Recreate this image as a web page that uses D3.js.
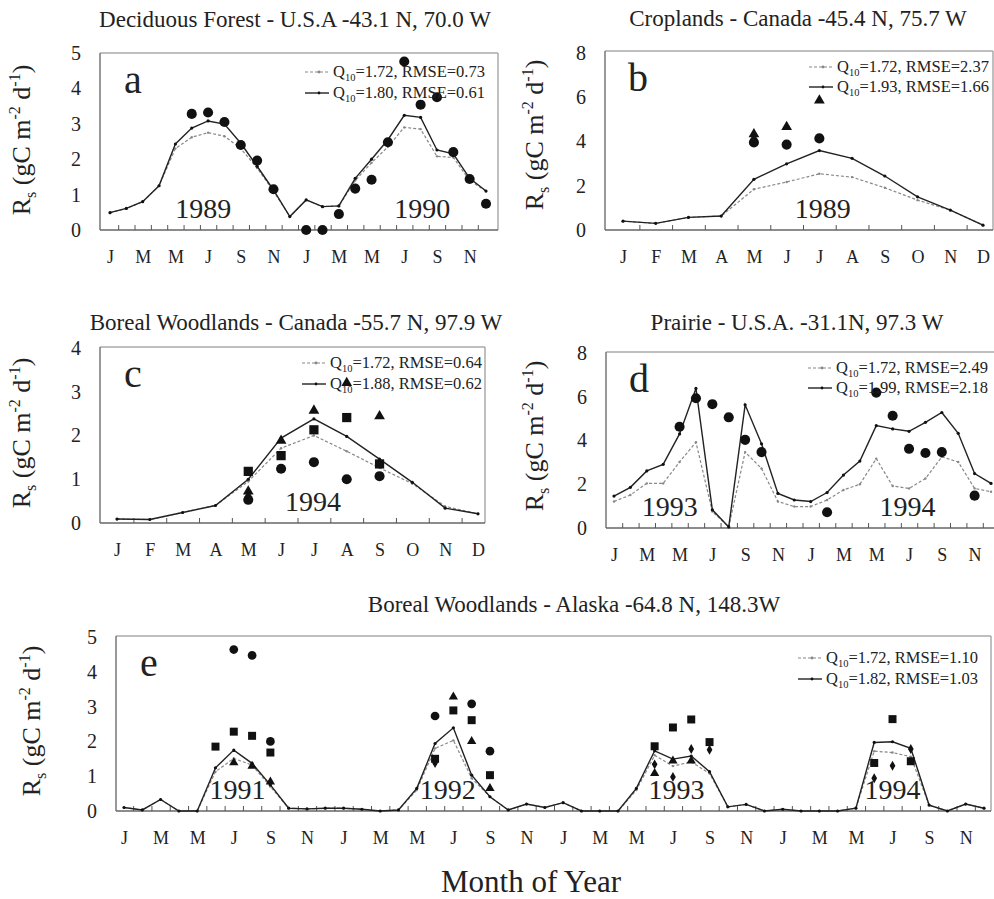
<!DOCTYPE html>
<html>
<head>
<meta charset="utf-8">
<title>Soil respiration - five sites</title>
<script src="https://cdn.jsdelivr.net/npm/d3@7/dist/d3.min.js"></script>
<style>
  body { margin: 0; background: #fff; }
  svg, svg text { font-family: "Liberation Serif", "DejaVu Serif", "Times New Roman", serif !important; }
  svg text { fill: #222; }
</style>
</head>
<body>
<svg id="chart" width="994" height="899" font-family="Liberation Serif"></svg>
<script>
// ---- month labels ----
const months12 = ["J","F","M","A","M","J","J","A","S","O","N","D"];
const monthsOdd = ["J","M","M","J","S","N"];

// ---- a: Deciduous forest (Jan 1989 - Dec 1990) ----
const aSolid  = [0.49,0.61,0.80,1.25,2.43,2.88,3.08,2.99,2.45,1.80,1.13,0.38,
                 0.85,0.66,0.68,1.46,2.00,2.55,3.24,3.18,2.26,2.15,1.46,1.10];
const aDotted = [0.49,0.61,0.80,1.25,2.30,2.62,2.75,2.65,2.30,1.75,1.10,0.38,
                 0.85,0.66,0.68,1.40,1.90,2.35,2.90,2.85,2.08,2.05,1.40,1.10];
const aCircles = [[5,3.28],[6,3.32],[7,3.05],[8,2.40],[9,1.96],[10,1.15],[12,0.0],[13,0.0],
                  [14,0.45],[15,1.17],[16,1.42],[17,2.48],[18,4.76],[19,3.54],[20,3.75],
                  [21,2.20],[22,1.44],[23,0.74]];
const aLegend = [["1.72","0.73"],["1.80","0.61"]];

// ---- b: Croplands (1989) ----
const bSolid  = [0.40,0.30,0.57,0.63,2.29,2.99,3.59,3.24,2.44,1.50,0.90,0.22];
const bDotted = [0.40,0.30,0.57,0.63,1.84,2.17,2.54,2.39,1.91,1.35,0.90,0.22];
const bCircles = [[4,3.96],[5,3.86],[6,4.14]];
const bTriangles = [[4,4.33],[5,4.66],[6,5.86]];
const bDiamonds = [[4,4.12]];
const bLegend = [["1.72","2.37"],["1.93","1.66"]];

// ---- c: Boreal woodlands Canada (1994) ----
const cSolid  = [0.09,0.08,0.24,0.40,1.00,1.94,2.38,1.98,1.46,0.93,0.34,0.21];
const cDotted = [0.09,0.08,0.24,0.40,0.95,1.71,2.00,1.64,1.26,0.90,0.38,0.21];
const cCircles = [[4,0.53],[5,1.24],[6,1.39],[7,1.00],[8,1.07]];
const cSquares = [[4,1.18],[5,1.54],[6,2.13],[7,2.41],[8,1.35]];
const cTriangles = [[4,0.72],[5,1.88],[6,2.57],[7,3.20],[8,2.44]];
const cDiamonds = [[4,0.62]];
const cLegend = [["1.72","0.64"],["1.88","0.62"]];

// ---- d: Prairie (1993 - 1994) ----
const dSolid  = [1.46,1.86,2.61,2.91,4.30,6.38,0.83,0.05,5.63,3.85,1.58,1.28,
                 1.21,1.62,2.42,3.06,4.68,4.53,4.42,4.83,5.28,4.33,2.49,2.04];
const dDotted = [1.21,1.51,2.04,2.04,3.02,3.92,0.75,0.05,3.47,2.72,1.21,0.98,
                 0.98,1.28,1.74,2.00,3.17,1.92,1.81,2.26,3.25,3.02,1.81,1.66];
const dCircles = [[4,4.63],[5,5.93],[6,5.66],[7,5.06],[8,4.03],[9,3.47],[13,0.72],
                  [16,6.19],[17,5.13],[18,3.62],[19,3.43],[20,3.47],[22,1.48]];
const dLegend = [["1.72","2.49"],["1.99","2.18"]];

// ---- e: Boreal woodlands Alaska (1991 - 1994) ----
const eSolid  = [0.10,0.03,0.33,0.00,0.00,1.24,1.75,1.37,0.75,0.08,0.06,0.08,
                 0.08,0.05,0.00,0.03,0.65,1.94,2.39,1.03,0.41,0.03,0.20,0.10,
                 0.24,0.00,0.00,0.00,0.65,1.73,1.49,1.58,1.13,0.12,0.19,0.00,
                 0.05,0.00,0.00,0.00,0.08,1.97,1.99,1.80,0.17,0.00,0.20,0.08];
const eDotted = [0.10,0.03,0.33,0.00,0.00,1.13,1.51,1.32,0.70,0.08,0.06,0.08,
                 0.08,0.05,0.00,0.03,0.60,1.80,2.03,0.94,0.41,0.03,0.20,0.10,
                 0.24,0.00,0.00,0.00,0.60,1.60,1.29,1.41,1.08,0.12,0.19,0.00,
                 0.05,0.00,0.00,0.00,0.08,1.72,1.68,1.56,0.17,0.00,0.20,0.08];
const eCircles = [[6,4.64],[7,4.47],[8,2.00],[17,2.73],[19,3.08],[20,1.72]];
const eSquares = [[5,1.85],[6,2.28],[7,2.16],[8,1.68],[17,1.50],[18,2.89],[19,2.61],[20,1.03],
                  [29,1.86],[30,2.40],[31,2.63],[32,1.98],[41,1.38],[42,2.64],[43,1.43]];
const eTriangles = [[6,1.39],[7,1.29],[8,0.84],[18,3.28],[19,2.00],[20,0.65],
                    [29,1.08],[30,1.44],[31,1.44]];
const eDiamonds = [[17,1.38],[29,1.34],[30,0.98],[31,1.78],[32,1.76],[41,0.94],[42,1.30],[43,1.78]];
const eLegend = [["1.72","1.10"],["1.82","1.03"]];

const svg = d3.select("#chart");

function drawPanel(p) {
  const g = svg.append("g");
  const n = p.solid.length;
  const x = d3.scaleLinear().domain([0, n - 1]).range([p.x0, p.x1]);
  const y = d3.scaleLinear().domain([0, p.yMax]).range([p.bottom, p.yTop]);

  // frame: top/right light, left/bottom darker
  g.append("line").attr("x1", p.left).attr("x2", p.right).attr("y1", p.top).attr("y2", p.top)
    .attr("stroke", "#aaa").attr("stroke-width", 1.5);
  g.append("line").attr("x1", p.right).attr("x2", p.right).attr("y1", p.top).attr("y2", p.bottom)
    .attr("stroke", "#aaa").attr("stroke-width", 1.5);
  g.append("line").attr("x1", p.left).attr("x2", p.left).attr("y1", p.top).attr("y2", p.bottom)
    .attr("stroke", "#777").attr("stroke-width", 1.5);
  g.append("line").attr("x1", p.left).attr("x2", p.right).attr("y1", p.bottom).attr("y2", p.bottom)
    .attr("stroke", "#666").attr("stroke-width", 1.5);

  // y axis labels
  const ya = g.append("g").attr("transform", `translate(${p.left},0)`)
    .call(d3.axisLeft(y).tickValues(d3.range(0, p.yMax + 1, p.yStep)).tickSize(0).tickPadding(19).tickFormat(d3.format("d")));
  ya.select(".domain").remove();
  ya.attr("font-family", null);
  ya.selectAll("text").attr("font-size", 20);

  // month boundary ticks (inside)
  const ta = g.append("g").attr("transform", `translate(0,${p.bottom})`)
    .call(d3.axisBottom(x).tickValues(d3.range(0.5, n - 1, 1)).tickSize(-5).tickFormat(""));
  ta.select(".domain").remove();
  ta.selectAll("line").attr("stroke", "#555");

  // month labels
  const step = p.labels.length === n ? 1 : 2;
  const labIdx = d3.range(0, n, step);
  const la = g.append("g").attr("transform", `translate(0,${p.bottom})`)
    .call(d3.axisBottom(x).tickValues(labIdx).tickSize(0).tickPadding(20)
      .tickFormat((d, i) => p.labels[i % p.labels.length]));
  la.select(".domain").remove();
  la.attr("font-family", null);
  la.selectAll("text").attr("font-size", 18);

  // model lines
  const line = d3.line().x((d, i) => x(i)).y(d => y(d));
  g.append("path").datum(p.dotted).attr("d", line).attr("fill", "none")
    .attr("stroke", "#888").attr("stroke-width", 1.2).attr("stroke-dasharray", "3,2");
  g.selectAll(".dd").data(p.dotted).join("circle")
    .attr("cx", (d, i) => x(i)).attr("cy", d => y(d)).attr("r", 1.2).attr("fill", "#888");
  g.append("path").datum(p.solid).attr("d", line).attr("fill", "none")
    .attr("stroke", "#222").attr("stroke-width", 1.4);
  g.selectAll(".sd").data(p.solid).join("circle")
    .attr("cx", (d, i) => x(i)).attr("cy", d => y(d)).attr("r", 1.6).attr("fill", "#111");

  // observations
  const sc = p.markScale || 1;
  const sets = [
    [p.circles, d3.symbolCircle, 80],
    [p.squares, d3.symbolSquare, 85],
    [p.triangles, d3.symbolTriangle, 50],
    [p.diamonds, d3.symbolDiamond, 38]
  ];
  sets.forEach(([data, type, size]) => {
    if (!data) return;
    g.selectAll(null).data(data).join("path")
      .attr("transform", d => `translate(${x(d[0])},${y(d[1])})`)
      .attr("d", d3.symbol().type(type).size(size * sc))
      .attr("fill", "#111");
  });

  // year labels
  p.years.forEach(([txt, idx]) => {
    g.append("text").attr("x", x(idx)).attr("y", p.bottom - 12)
      .attr("text-anchor", "middle").attr("font-size", 28).text(txt);
  });

  // panel letter
  g.append("text").attr("x", p.left + 33).attr("y", p.top + 40)
    .attr("text-anchor", "middle").attr("font-size", 40).text(p.letter);

  // legend
  p.legend.forEach(([q, r], k) => {
    const ly = p.top + p.legY[k];
    const lx = p.legX;
    g.append("line").attr("x1", lx).attr("x2", lx + 24).attr("y1", ly).attr("y2", ly)
      .attr("stroke", k === 0 ? "#888" : "#222").attr("stroke-width", k === 0 ? 1.2 : 1.4)
      .attr("stroke-dasharray", k === 0 ? "3,2" : null);
    g.append("circle").attr("cx", lx + 14).attr("cy", ly).attr("r", 1.4).attr("fill", k === 0 ? "#888" : "#111");
    const t = g.append("text").attr("x", lx + 28).attr("y", ly + 5).attr("font-size", 16.5);
    t.append("tspan").text("Q");
    t.append("tspan").attr("font-size", 10.5).attr("dy", 4).text("10");
    t.append("tspan").attr("dy", -4).text(`=${q}, RMSE=${r}`);
  });

  // title
  g.append("text").attr("x", p.titleX).attr("y", p.titleY).attr("text-anchor", "middle")
    .attr("font-size", 23).text(p.title);

  // y axis title
  const yt = g.append("text").attr("transform", `translate(${p.ytX},${p.ytY}) rotate(-90)`)
    .attr("text-anchor", "middle").attr("font-size", 26);
  yt.append("tspan").text("R");
  yt.append("tspan").attr("font-size", 16).attr("dy", 6).text("s");
  yt.append("tspan").attr("dy", -6).text(" (gC m");
  yt.append("tspan").attr("font-size", 16).attr("dy", -10).text("-2");
  yt.append("tspan").attr("dy", 10).text(" d");
  yt.append("tspan").attr("font-size", 16).attr("dy", -10).text("-1");
  yt.append("tspan").attr("dy", 10).text(")");
}

drawPanel({
  letter: "a", title: "Deciduous Forest - U.S.A -43.1 N, 70.0 W", titleX: 295, titleY: 27,
  left: 100, right: 498, top: 53, bottom: 230, x0: 110, x1: 486, yMax: 5, yStep: 1, yTop: 53,
  labels: monthsOdd, solid: aSolid, dotted: aDotted, circles: aCircles,
  years: [["1989", 5.7], ["1990", 19.1]], legend: aLegend, legX: 305, legY: [19, 40],
  ytX: 30, ytY: 140
});
drawPanel({
  letter: "b", title: "Croplands - Canada -45.4 N, 75.7 W", titleX: 798, titleY: 26,
  left: 605, right: 993, top: 51, bottom: 230, x0: 623, x1: 983, yMax: 8, yStep: 2, yTop: 53,
  labels: months12, solid: bSolid, dotted: bDotted, circles: bCircles, triangles: bTriangles,
  diamonds: bDiamonds, years: [["1989", 6.1]], legend: bLegend, legX: 809, legY: [16, 36],
  ytX: 543, ytY: 135
});
drawPanel({
  letter: "c", title: "Boreal Woodlands - Canada -55.7 N, 97.9 W", titleX: 296, titleY: 330,
  left: 100, right: 485, top: 347, bottom: 523, x0: 117, x1: 478, yMax: 4, yStep: 1, yTop: 348,
  labels: months12, solid: cSolid, dotted: cDotted, circles: cCircles, squares: cSquares,
  triangles: cTriangles, diamonds: cDiamonds, years: [["1994", 5.97]], legend: cLegend,
  legX: 302, legY: [16, 37], ytX: 30, ytY: 433
});
drawPanel({
  letter: "d", title: "Prairie - U.S.A. -31.1N, 97.3 W", titleX: 797, titleY: 330,
  left: 606, right: 995, top: 352, bottom: 528, x0: 614, x1: 991, yMax: 8, yStep: 2, yTop: 353,
  labels: monthsOdd, solid: dSolid, dotted: dDotted, circles: dCircles,
  years: [["1993", 3.4], ["1994", 17.9]], legend: dLegend, legX: 808, legY: [16, 36],
  ytX: 543, ytY: 436
});
drawPanel({
  letter: "e", title: "Boreal Woodlands - Alaska -64.8 N, 148.3W", titleX: 574, titleY: 612,
  left: 116, right: 991, top: 636, bottom: 811, x0: 124, x1: 984, yMax: 5, yStep: 1, yTop: 637,
  labels: monthsOdd, solid: eSolid, dotted: eDotted, circles: eCircles, squares: eSquares,
  triangles: eTriangles, diamonds: eDiamonds, markScale: 0.75,
  years: [["1991", 6.2], ["1992", 17.7], ["1993", 30.2], ["1994", 42.0]],
  legend: eLegend, legX: 798, legY: [22, 43], ytX: 40, ytY: 721
});

svg.append("text").attr("x", 531).attr("y", 892).attr("text-anchor", "middle")
  .attr("font-size", 31).text("Month  of  Year");
</script>
</body>
</html>
